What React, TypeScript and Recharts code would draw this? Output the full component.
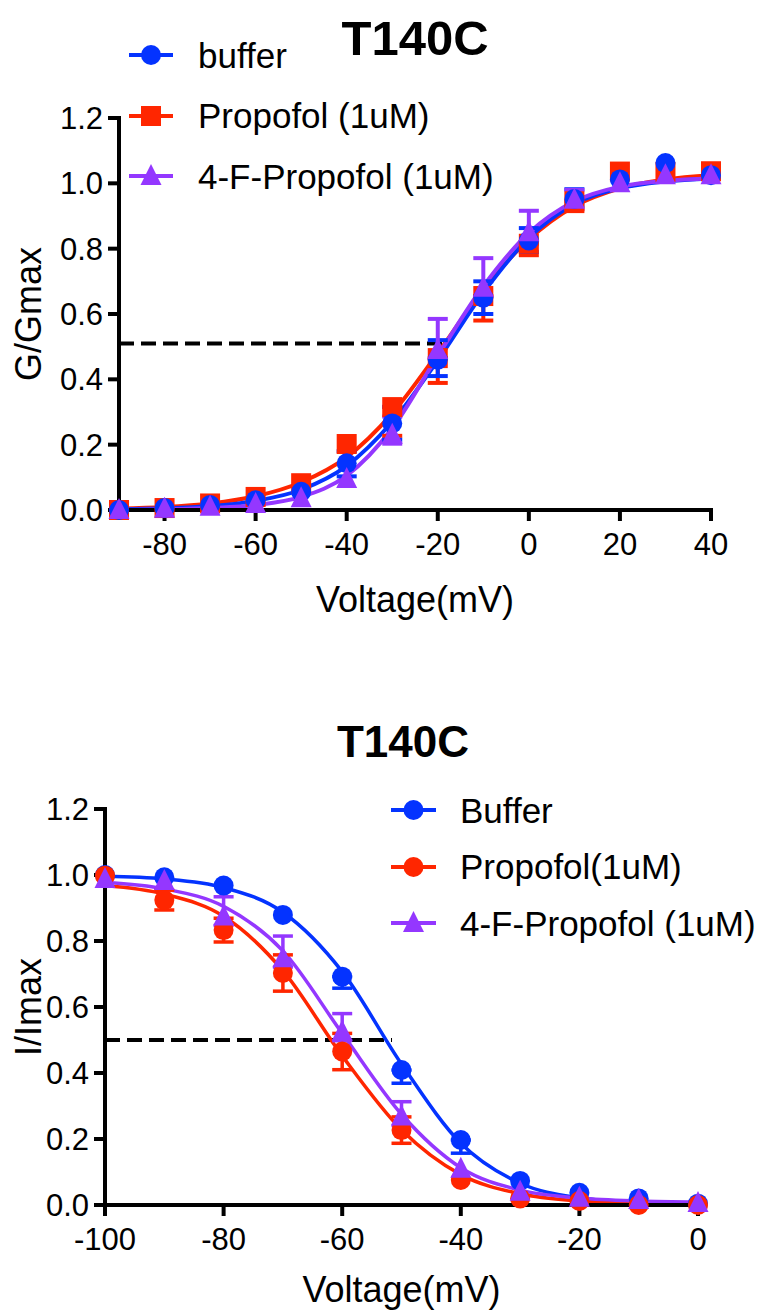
import React from 'react';
import { ComposedChart, Line, Scatter, XAxis, YAxis, ErrorBar, ReferenceLine, Legend, Label } from 'recharts';

const BLUE = '#0433FF';
const RED = '#FF2600';
const PURPLE = '#9437FF';
const FONT = '"Liberation Sans", Arial, Helvetica, sans-serif';

// ---------- Top panel: G/Gmax vs voltage ----------
const gvTitle = 'T140C';
const gvYLabel = 'G/Gmax';
const gvVoltages = [-90, -80, -70, -60, -50, -40, -30, -20, -10, 0, 10, 20, 30, 40];
const gvBuffer = [0.0, 0.006, 0.015, 0.03, 0.056, 0.143, 0.265, 0.46, 0.65, 0.825, 0.952, 1.012, 1.062, 1.025];
const gvPropofol = [0.0, 0.006, 0.02, 0.04, 0.082, 0.202, 0.315, 0.465, 0.655, 0.815, 0.945, 1.036, 1.035, 1.037];
const gv4F = [0.0, 0.004, 0.01, 0.018, 0.036, 0.095, 0.23, 0.49, 0.68, 0.85, 0.95, 1.0, 1.025, 1.025];
type Err = [number, number] | null;
const gvBufferErr: Err[] = [null, null, null, null, null, [0.04, 0.037], [0.05, 0.051], [0.05, 0.06], [0.05, 0.05], [0.035, 0.038], [0.02, 0.03], null, null, null];
const gvPropofolErr: Err[] = [null, null, null, null, null, null, [0.088, 0], [0.076, 0], [0.075, 0], [0.035, 0], [0.03, 0], null, null, null];
const gv4FErr: Err[] = [null, null, null, null, null, null, [0.027, 0.056], [0.027, 0.095], [0.027, 0.091], [0.027, 0.066], [0.027, 0.03], null, null, null];
const gvBufferFit = [0.002, 0.005, 0.012, 0.028, 0.062, 0.135, 0.27, 0.458, 0.665, 0.833, 0.937, 0.985, 1.006, 1.015];
const gvPropofolFit = [0.004, 0.009, 0.02, 0.042, 0.085, 0.162, 0.296, 0.48, 0.675, 0.828, 0.93, 0.985, 1.012, 1.025];
const gv4FFit = [0.0, 0.002, 0.006, 0.015, 0.04, 0.105, 0.25, 0.472, 0.685, 0.848, 0.945, 0.99, 1.008, 1.015];
const gvXTicks = [-80, -60, -40, -20, 0, 20, 40];
const gvXDomain = [-90, 40];
const gvHalfY = 0.51;
const gvHalfEnd = -17.5;
const gvNames = ['buffer', 'Propofol (1uM)', '4-F-Propofol (1uM)'];

// ---------- Bottom panel: I/Imax vs voltage ----------
const ivTitle = 'T140C';
const ivYLabel = 'I/Imax';
const ivVoltages = [-100, -90, -80, -70, -60, -50, -40, -30, -20, -10, 0];
const ivBuffer = [1.0, 0.993, 0.968, 0.879, 0.692, 0.409, 0.197, 0.073, 0.037, 0.02, 0.004];
const ivPropofol = [0.998, 0.924, 0.833, 0.703, 0.465, 0.227, 0.076, 0.02, 0.012, 0.0, 0.0];
const iv4F = [0.988, 0.982, 0.874, 0.748, 0.525, 0.268, 0.11, 0.04, 0.022, 0.015, 0.006];
const ivBufferErr: Err[] = [null, null, null, null, [0.035, 0], [0.04, 0], [0.04, 0], null, null, null, null];
const ivPropofolErr: Err[] = [null, [0.03, 0.03], [0.036, 0.036], [0.055, 0.055], [0.055, 0.055], [0.04, 0.04], null, null, null, null, null];
const iv4FErr: Err[] = [null, null, [0.027, 0.06], [0.027, 0.067], [0.027, 0.055], [0.027, 0.045], null, null, null, null, null];
const ivBufferFit = [0.996, 0.988, 0.962, 0.887, 0.707, 0.427, 0.187, 0.066, 0.022, 0.008, 0.004];
const ivPropofolFit = [0.968, 0.942, 0.875, 0.71, 0.452, 0.228, 0.092, 0.034, 0.012, 0.004, 0.001];
const iv4FFit = [0.978, 0.958, 0.905, 0.77, 0.52, 0.275, 0.113, 0.045, 0.021, 0.012, 0.009];
const ivXTicks = [-100, -80, -60, -40, -20, 0];
const ivXDomain = [-100, 0];
const ivHalfY = 0.5;
const ivHalfEnd = -51.6;
const ivNames = ['Buffer', 'Propofol(1uM)', '4-F-Propofol (1uM)'];

const yTicks = [0, 0.2, 0.4, 0.6, 0.8, 1.0, 1.2];
const xLabel = 'Voltage(mV)';

type Marker = 'circle' | 'square' | 'triangle';
type Series = { name: string; color: string; marker: Marker; xs: number[]; ys: number[]; errs: Err[]; fit: number[] };

const toPoints = (xs: number[], ys: number[], errs?: Err[]) =>
  xs.map((v, i) => ({ v, y: ys[i], err: errs ? errs[i] : null }));

const markerShape = (marker: Marker, color: string) => (p: any) => {
  const { cx, cy } = p;
  if (cx == null || cy == null) return <g />;
  if (marker === 'circle') return <circle cx={cx} cy={cy} r={10} fill={color} />;
  if (marker === 'square') return <rect x={cx - 10} y={cy - 10} width={20} height={20} fill={color} />;
  return <polygon points={`${cx},${cy - 12} ${cx + 10.5},${cy + 9} ${cx - 10.5},${cy + 9}`} fill={color} />;
};
const noShape = () => <g />;

const LegendSymbol = ({ marker, color, w }: { marker: Marker; color: string; w: number }) => {
  const c = w / 2;
  return (
    <svg width={w} height={26} style={{ flex: 'none', display: 'block' }}>
      <line x1={0} x2={w} y1={13} y2={13} stroke={color} strokeWidth={4} />
      {marker === 'circle' && <circle cx={c} cy={13} r={10} fill={color} />}
      {marker === 'square' && <rect x={c - 10} y={3} width={20} height={20} fill={color} />}
      {marker === 'triangle' && <polygon points={`${c},1 ${c + 10.5},22 ${c - 10.5},22`} fill={color} />}
    </svg>
  );
};

const makeLegend = (series: Series[], rowH: number, symW: number, gap: number) => () => (
  <div style={{ fontFamily: FONT }}>
    {series.map((s) => (
      <div key={s.name} style={{ display: 'flex', alignItems: 'center', height: rowH }}>
        <LegendSymbol marker={s.marker} color={s.color} w={symW} />
        <span style={{ marginLeft: gap, fontSize: 35, lineHeight: 1, color: '#000', whiteSpace: 'nowrap' }}>{s.name}</span>
      </div>
    ))}
  </div>
);

type PanelProps = {
  top: number;
  height: number;
  margin: { top: number; right: number; bottom: number; left: number };
  xDomain: number[];
  xTicks: number[];
  yLabel: string;
  yLabelOffset: number;
  xLabelOffset: number;
  series: Series[];
  halfY: number;
  halfEnd: number;
  lineWidth: number;
  errWidth: number;
  legendPos: { left: number; top: number };
  legendRowH: number;
  legendSymW: number;
  legendGap: number;
};

const Panel = (props: PanelProps) => {
  const { top, height, margin, xDomain, xTicks, yLabel, yLabelOffset, xLabelOffset, series, halfY, halfEnd, lineWidth, errWidth } = props;
  const axisStyle = { stroke: '#000', strokeWidth: 4, strokeLinecap: 'square' as const };
  return (
    <div style={{ position: 'absolute', left: 0, top, width: 775, height }}>
      <ComposedChart width={775} height={height} margin={margin}>
        <XAxis
          type="number"
          dataKey="v"
          domain={xDomain}
          ticks={xTicks}
          interval={0}
          height={60}
          tickSize={11}
          tickMargin={12}
          axisLine={axisStyle}
          tickLine={{ stroke: '#000', strokeWidth: 4 }}
          tick={{ fill: '#000', fontSize: 31, fontFamily: FONT }}
        >
          <Label value={xLabel} position="bottom" offset={xLabelOffset} fill="#000" fontSize={36} fontFamily={FONT} />
        </XAxis>
        <YAxis
          type="number"
          domain={[0, 1.2]}
          ticks={yTicks}
          interval={0}
          width={60}
          tickSize={11}
          tickMargin={5}
          tickFormatter={(v: number) => v.toFixed(1)}
          axisLine={axisStyle}
          tickLine={{ stroke: '#000', strokeWidth: 4 }}
          tick={{ fill: '#000', fontSize: 31, fontFamily: FONT }}
        >
          <Label
            value={yLabel}
            position="left"
            angle={-90}
            offset={yLabelOffset}
            fill="#000"
            fontSize={36}
            fontFamily={FONT}
            style={{ textAnchor: 'middle' }}
          />
        </YAxis>
        <ReferenceLine
          segment={[{ x: xDomain[0], y: halfY }, { x: halfEnd, y: halfY }]}
          stroke="#000"
          strokeWidth={4}
          strokeDasharray="15 7"
          ifOverflow="visible"
        />
        {series.map((s) => (
          <Line
            key={'fit-' + s.name}
            data={toPoints(s.xs, s.fit)}
            dataKey="y"
            type="monotone"
            stroke={s.color}
            strokeWidth={lineWidth}
            dot={false}
            activeDot={false}
            legendType="none"
            isAnimationActive={false}
          />
        ))}
        {series.flatMap((s) => [
          <Scatter key={'err-' + s.name} data={toPoints(s.xs, s.ys, s.errs)} dataKey="y" shape={noShape} legendType="none" isAnimationActive={false}>
            <ErrorBar dataKey="err" direction="y" width={10} strokeWidth={errWidth} stroke={s.color} isAnimationActive={false} />
          </Scatter>,
          <Scatter key={'pts-' + s.name} data={toPoints(s.xs, s.ys)} dataKey="y" shape={markerShape(s.marker, s.color)} legendType="none" isAnimationActive={false} />,
        ])}
        <Legend
          layout="horizontal"
          align="center"
          verticalAlign="middle"
          content={makeLegend(props.legendOrder as any, props.legendRowH, props.legendSymW, props.legendGap)}
          wrapperStyle={{ left: props.legendPos.left, top: props.legendPos.top, width: 640, height: 190 }}
        />
      </ComposedChart>
    </div>
  );
};

const gvSeries: Series[] = [
  { name: gvNames[1], color: RED, marker: 'square', xs: gvVoltages, ys: gvPropofol, errs: gvPropofolErr, fit: gvPropofolFit },
  { name: gvNames[0], color: BLUE, marker: 'circle', xs: gvVoltages, ys: gvBuffer, errs: gvBufferErr, fit: gvBufferFit },
  { name: gvNames[2], color: PURPLE, marker: 'triangle', xs: gvVoltages, ys: gv4F, errs: gv4FErr, fit: gv4FFit },
];
const gvLegendOrder = [gvSeries[1], gvSeries[0], gvSeries[2]];

const ivSeries: Series[] = [
  { name: ivNames[0], color: BLUE, marker: 'circle', xs: ivVoltages, ys: ivBuffer, errs: ivBufferErr, fit: ivBufferFit },
  { name: ivNames[1], color: RED, marker: 'circle', xs: ivVoltages, ys: ivPropofol, errs: ivPropofolErr, fit: ivPropofolFit },
  { name: ivNames[2], color: PURPLE, marker: 'triangle', xs: ivVoltages, ys: iv4F, errs: iv4FErr, fit: iv4FFit },
];

export default function App() {
  return (
    <div style={{ position: 'absolute', left: 0, top: 0, width: 775, height: 1312, background: '#fff', fontFamily: FONT, overflow: 'hidden' }}>
      <Panel
        {...({ legendOrder: gvLegendOrder } as any)}
        top={0}
        height={650}
        margin={{ top: 118, right: 64, bottom: 80, left: 59 }}
        xDomain={gvXDomain}
        xTicks={gvXTicks}
        yLabel={gvYLabel}
        yLabelOffset={31}
        xLabelOffset={16}
        series={gvSeries}
        halfY={gvHalfY}
        halfEnd={gvHalfEnd}
        lineWidth={4}
        errWidth={4}
        legendPos={{ left: 129, top: 24.75 }}
        legendRowH={60.5}
        legendSymW={44}
        legendGap={25}
      />
      <Panel
        {...({ legendOrder: ivSeries } as any)}
        top={660}
        height={652}
        margin={{ top: 149, right: 77, bottom: 47, left: 45 }}
        xDomain={ivXDomain}
        xTicks={ivXTicks}
        yLabel={ivYLabel}
        yLabelOffset={17}
        xLabelOffset={11}
        series={ivSeries}
        halfY={ivHalfY}
        halfEnd={ivHalfEnd}
        lineWidth={3.5}
        errWidth={3.5}
        legendPos={{ left: 391, top: 121.75 }}
        legendRowH={56.5}
        legendSymW={45}
        legendGap={24}
      />
      <svg width={775} height={1312} style={{ position: 'absolute', left: 0, top: 0, pointerEvents: 'none' }}>
        <text x={415} y={55} textAnchor="middle" fontSize={49} fontWeight="bold" fill="#000" fontFamily={FONT}>{gvTitle}</text>
        <text x={403} y={757} textAnchor="middle" fontSize={44} fontWeight="bold" fill="#000" fontFamily={FONT}>{ivTitle}</text>
      </svg>
    </div>
  );
}
